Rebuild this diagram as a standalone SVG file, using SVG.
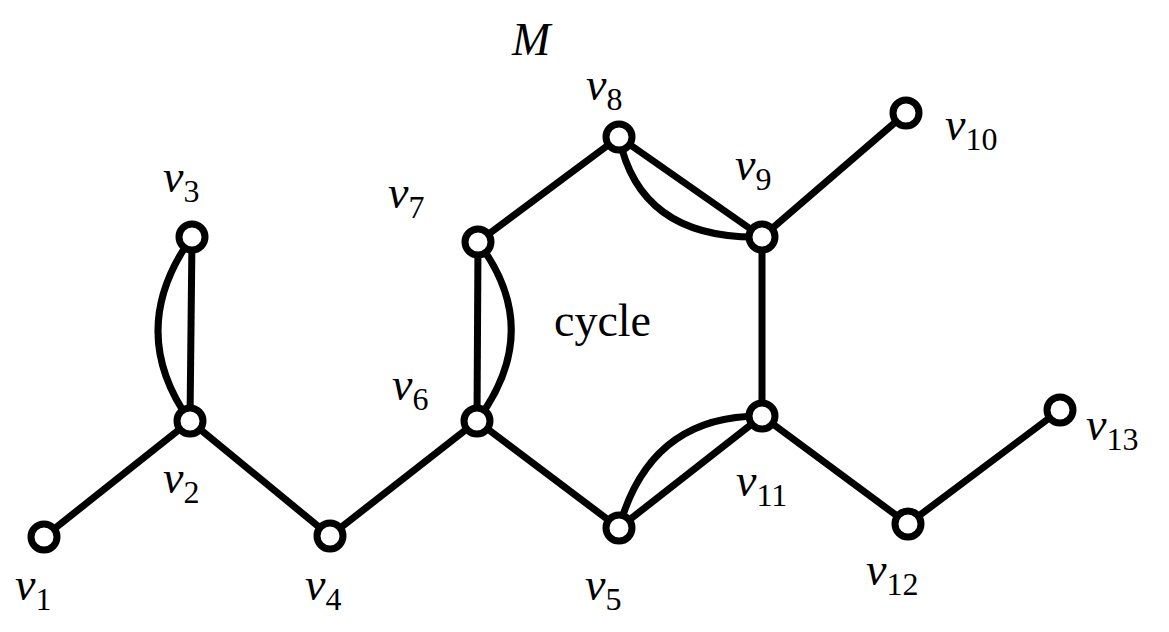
<svg xmlns="http://www.w3.org/2000/svg" width="1169" height="632" viewBox="0 0 1169 632">
<style>
.e{stroke:#000;stroke-width:7;fill:none}
.n{stroke:#000;stroke-width:7;fill:#fff}
.t{font-family:"Liberation Serif",serif;font-style:italic;font-size:46px}
.s{font-size:32px;font-style:normal}
</style>
<rect width="1169" height="632" fill="#fff"/>
<g id="edges">
<line class="e" x1="44" y1="537" x2="190" y2="421"/>
<line class="e" x1="190" y1="421" x2="192" y2="237"/>
<path class="e" d="M190,421 Q125,330 192,237"/>
<line class="e" x1="190" y1="421" x2="330" y2="536"/>
<line class="e" x1="330" y1="536" x2="477" y2="421"/>
<line class="e" x1="477" y1="421" x2="478" y2="242"/>
<path class="e" d="M477,421 Q545,330 478,242"/>
<line class="e" x1="478" y1="242" x2="619" y2="137"/>
<line class="e" x1="619" y1="137" x2="762" y2="237"/>
<path class="e" d="M619,137 Q640,240 762,237"/>
<line class="e" x1="762" y1="237" x2="906" y2="113"/>
<line class="e" x1="762" y1="237" x2="762" y2="416"/>
<line class="e" x1="477" y1="421" x2="619" y2="528"/>
<line class="e" x1="619" y1="528" x2="762" y2="416"/>
<path class="e" d="M619,528 Q650,415 762,416"/>
<line class="e" x1="762" y1="416" x2="908" y2="524"/>
<line class="e" x1="908" y1="524" x2="1060" y2="410"/>
</g>
<g id="v1"><circle class="n" cx="44" cy="537" r="13"/><text class="t" x="15" y="600">v<tspan class="s" dy="10">1</tspan></text></g>
<g id="v2"><circle class="n" cx="190" cy="421" r="13"/><text class="t" x="163" y="493">v<tspan class="s" dy="10">2</tspan></text></g>
<g id="v3"><circle class="n" cx="192" cy="237" r="13"/><text class="t" x="163" y="192">v<tspan class="s" dy="10">3</tspan></text></g>
<g id="v4"><circle class="n" cx="330" cy="536" r="13"/><text class="t" x="305" y="600">v<tspan class="s" dy="10">4</tspan></text></g>
<g id="v5"><circle class="n" cx="619" cy="528" r="13"/><text class="t" x="585" y="600">v<tspan class="s" dy="10">5</tspan></text></g>
<g id="v6"><circle class="n" cx="477" cy="421" r="13"/><text class="t" x="392" y="400">v<tspan class="s" dy="10">6</tspan></text></g>
<g id="v7"><circle class="n" cx="478" cy="242" r="13"/><text class="t" x="388" y="208">v<tspan class="s" dy="10">7</tspan></text></g>
<g id="v8"><circle class="n" cx="619" cy="137" r="13"/><text class="t" x="586" y="100">v<tspan class="s" dy="10">8</tspan></text></g>
<g id="v9"><circle class="n" cx="762" cy="237" r="13"/><text class="t" x="735" y="180">v<tspan class="s" dy="10">9</tspan></text></g>
<g id="v10"><circle class="n" cx="906" cy="113" r="13"/><text class="t" x="945" y="140">v<tspan class="s" dy="10">10</tspan></text></g>
<g id="v11"><circle class="n" cx="762" cy="416" r="13"/><text class="t" x="736" y="496">v<tspan class="s" dy="10">11</tspan></text></g>
<g id="v12"><circle class="n" cx="908" cy="524" r="13"/><text class="t" x="866" y="585">v<tspan class="s" dy="10">12</tspan></text></g>
<g id="v13"><circle class="n" cx="1060" cy="410" r="13"/><text class="t" x="1086" y="440">v<tspan class="s" dy="10">13</tspan></text></g>
<text class="t" x="512" y="55">M</text>
<text x="554" y="336" font-family="Liberation Serif,serif" font-size="46">cycle</text>
</svg>
